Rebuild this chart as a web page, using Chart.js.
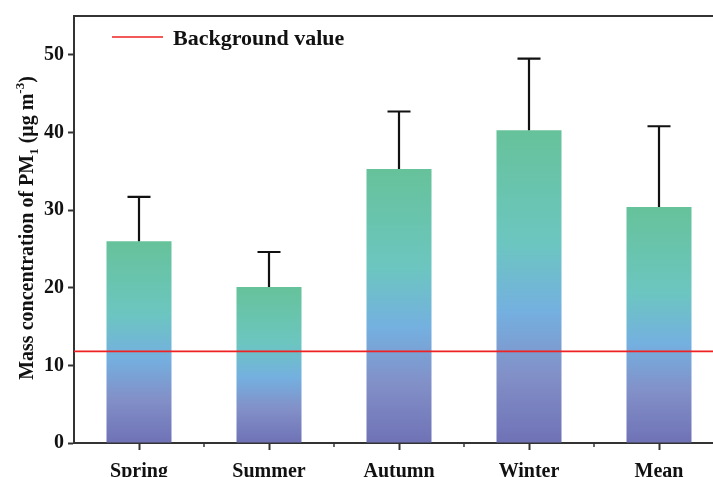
<!DOCTYPE html>
<html>
<head>
<meta charset="utf-8">
<script src="https://cdn.jsdelivr.net/npm/chart.js@4.4.0/dist/chart.umd.min.js"></script>
<style>
  html, body { margin: 0; padding: 0; overflow: hidden; background: #fff; }
  #wrap { width: 713px; height: 477px; overflow: hidden; }
</style>
</head>
<body>
<div id="wrap"><canvas id="pm1Chart" width="740" height="477"></canvas></div>
<script>
// data
const seasons = ['Spring', 'Summer', 'Autumn', 'Winter', 'Mean'];
const pm1Mean = [26.0, 20.1, 35.3, 40.3, 30.4];
const pm1Err = [5.7, 4.5, 7.4, 9.2, 10.4];
const backgroundValue = 11.8;
const yTicks = [0, 10, 20, 30, 40, 50];

const serif = '"Liberation Serif", "Times New Roman", serif';
const axisColor = '#333333';

// gradient per bar (purple at the bottom -> green at the top)
function barGradient(c) {
    const chart = c.chart;
    if (!chart.chartArea || c.type !== 'data') return '#6cc6c0';
    const y = chart.scales.y;
    const top = y.getPixelForValue(c.raw);
    const bottom = y.getPixelForValue(0);
    const g = chart.ctx.createLinearGradient(0, bottom, 0, top);
    g.addColorStop(0, '#6f72b6');
    g.addColorStop(0.22, '#8290c8');
    g.addColorStop(0.42, '#74b0e0');
    g.addColorStop(0.64, '#6cc6c0');
    g.addColorStop(1, '#66c29a');
    return g;
}

// error bars, background line, frame, minor ticks, legend and y title
const extras = {
    id: 'extras',
    afterDatasetsDraw(chart) {
        const ctx = chart.ctx;
        const area = chart.chartArea;
        const y = chart.scales.y;
        const x = chart.scales.x;
        const meta = chart.getDatasetMeta(0);

        ctx.save();
        // error bars (upper only)
        ctx.strokeStyle = '#111';
        ctx.lineWidth = 2.2;
        meta.data.forEach((bar, i) => {
            const yTop = y.getPixelForValue(pm1Mean[i] + pm1Err[i]);
            ctx.beginPath();
            ctx.moveTo(bar.x, bar.y);
            ctx.lineTo(bar.x, yTop);
            ctx.moveTo(bar.x - 11.5, yTop);
            ctx.lineTo(bar.x + 11.5, yTop);
            ctx.stroke();
        });

        // background value line
        const yb = y.getPixelForValue(backgroundValue);
        ctx.strokeStyle = '#ee2222';
        ctx.lineWidth = 1.6;
        ctx.beginPath();
        ctx.moveTo(area.left, yb);
        ctx.lineTo(area.right, yb);
        ctx.stroke();

        // frame top
        ctx.strokeStyle = axisColor;
        ctx.lineWidth = 2;
        ctx.beginPath();
        ctx.moveTo(area.left, area.top);
        ctx.lineTo(area.right, area.top);
        ctx.stroke();

        // minor ticks between categories
        ctx.lineWidth = 1.5;
        for (let i = 0; i < seasons.length - 1; i++) {
            const xm = (x.getPixelForValue(i) + x.getPixelForValue(i + 1)) / 2;
            ctx.beginPath();
            ctx.moveTo(xm, area.bottom);
            ctx.lineTo(xm, area.bottom + 4);
            ctx.stroke();
        }

        // legend
        ctx.strokeStyle = '#ee2222';
        ctx.lineWidth = 1.6;
        ctx.beginPath();
        ctx.moveTo(112, 37);
        ctx.lineTo(163, 37);
        ctx.stroke();
        ctx.fillStyle = '#111';
        ctx.font = 'bold 22px ' + serif;
        ctx.textBaseline = 'alphabetic';
        ctx.textAlign = 'left';
        ctx.fillText('Background value', 173, 45);

        // y axis title with subscript / superscript
        const parts = [
            { t: 'Mass concentration of PM', size: 20, dy: 0 },
            { t: '1', size: 13, dy: 5 },
            { t: ' (\u03bcg m', size: 20, dy: 0 },
            { t: '-3', size: 13, dy: -9 },
            { t: ')', size: 20, dy: 0 }
        ];
        let total = 0;
        parts.forEach(p => {
            ctx.font = 'bold ' + p.size + 'px ' + serif;
            p.w = ctx.measureText(p.t).width;
            total += p.w;
        });
        ctx.translate(33, 228);
        ctx.rotate(-Math.PI / 2);
        let px = -total / 2;
        parts.forEach(p => {
            ctx.font = 'bold ' + p.size + 'px ' + serif;
            ctx.fillText(p.t, px, p.dy);
            px += p.w;
        });
        ctx.restore();
    }
};

new Chart(document.getElementById('pm1Chart'), {
    type: 'bar',
    data: {
        labels: seasons,
        datasets: [{
            label: 'PM1',
            data: pm1Mean,
            backgroundColor: barGradient,
            borderWidth: 0,
            barPercentage: 0.5,
            categoryPercentage: 1.0
        }]
    },
    options: {
        responsive: false,
        devicePixelRatio: 1,
        animation: false,
        layout: { padding: { top: 13, right: 16, left: 0, bottom: 0 } },
        plugins: {
            legend: { display: false },
            tooltip: { enabled: false }
        },
        scales: {
            x: {
                offset: true,
                grid: {
                    offset: false,
                    drawOnChartArea: false,
                    tickLength: 7,
                    tickColor: axisColor,
                    tickWidth: 2
                },
                border: { color: axisColor, width: 2 },
                ticks: {
                    color: '#111',
                    padding: 10,
                    font: { family: serif, size: 20, weight: 'bold' }
                },
                afterFit(scale) { scale.height = 34; }
            },
            y: {
                min: 0,
                max: 55,
                grid: {
                    drawOnChartArea: false,
                    tickLength: 6,
                    tickColor: axisColor,
                    tickWidth: 2
                },
                border: { color: axisColor, width: 2 },
                ticks: {
                    stepSize: 10,
                    includeBounds: false,
                    color: '#111',
                    padding: 4,
                    font: { family: serif, size: 20, weight: 'bold' },
                    callback: v => yTicks.includes(v) ? v : ''
                },
                afterFit(scale) { scale.width = 74; }
            }
        }
    },
    plugins: [extras]
});
</script>
</body>
</html>
